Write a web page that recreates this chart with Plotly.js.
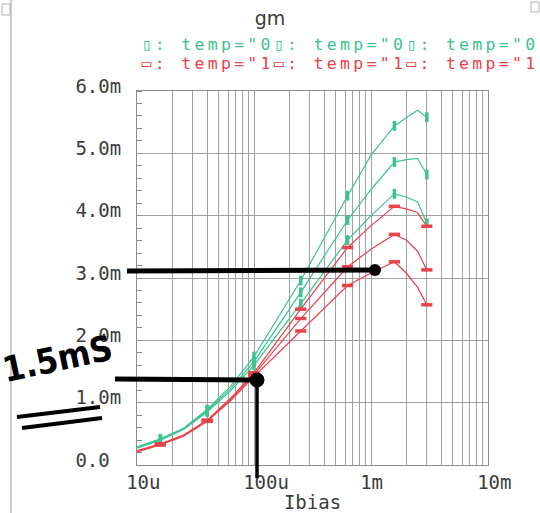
<!DOCTYPE html>
<html>
<head>
<meta charset="utf-8">
<script src="https://cdn.plot.ly/plotly-3.0.1.min.js"></script>
<style>
  html, body { margin: 0; padding: 0; background: #fff; }
  #plot { width: 540px; height: 513px; }
  /* legend rows use the wide spacing of the simulator's text */
  .annotation[data-index="0"] text, .annotation[data-index="1"] text { letter-spacing: 3.3px; }
</style>
</head>
<body>
<div id="plot"></div>
<script>
// Bias current sweep (A)
const ibias = [10e-6, 15.85e-6, 25e-6, 39.8e-6, 63e-6, 100e-6, 251e-6, 631e-6, 1e-3, 1.585e-3, 2e-3, 2.5e-3, 3e-3];

// gm in mS for each corner
const gmTemp0a = [0.29, 0.42, 0.59, 0.89, 1.26, 1.74, 2.96, 4.32, 4.97, 5.44, 5.57, 5.69, 5.58];
const gmTemp0b = [0.28, 0.41, 0.58, 0.87, 1.22, 1.66, 2.77, 3.93, 4.42, 4.86, 4.90, 4.92, 4.66];
const gmTemp0c = [0.27, 0.40, 0.57, 0.85, 1.19, 1.60, 2.59, 3.61, 4.00, 4.35, 4.30, 4.22, 3.88];
const gmTemp1a = [0.23, 0.34, 0.48, 0.72, 1.07, 1.48, 2.50, 3.49, 3.84, 4.15, 4.11, 4.05, 3.83];
const gmTemp1b = [0.22, 0.33, 0.47, 0.71, 1.05, 1.45, 2.35, 3.18, 3.46, 3.70, 3.61, 3.43, 3.13];
const gmTemp1c = [0.21, 0.32, 0.46, 0.70, 1.03, 1.42, 2.15, 2.88, 3.08, 3.26, 3.08, 2.85, 2.57];

// samples that carry a trace marker
const markerAt = [1, 3, 5, 6, 7, 9, 12];

// legend entries and axis tick labels
const legendTemp0 = 'temp="0';
const legendTemp1 = 'temp="1';
const xTickVals = [10e-6, 100e-6, 1e-3, 10e-3];
const xTickText = ['10u', '100u', '1m', '10m'];
const yTickVals = [0, 1e-3, 2e-3, 3e-3, 4e-3, 5e-3, 6e-3];
const yTickText = ['0.0', '1.0m', '2.0m', '3.0m', '4.0m', '5.0m', '6.0m'];

const GREEN = '#3cc48e';
const RED = '#e8424a';
const GRID = '#a0a0a0';
const TEXT = '#3c3c3c';
const MONO = 'DejaVu Sans Mono, monospace';
const LEGEND_SPACING = 3.3; // matches the letter-spacing rule above

// plot area in page pixels
const L = 137, R = 488, T = 91, B = 465;
const fx = p => (p - L) / (R - L);
const fy = p => (B - p) / (B - T);

const toS = arr => arr.map(v => v * 1e-3);

const series = [
  { y: gmTemp0a, color: GREEN, sym: 'line-ns' },
  { y: gmTemp0b, color: GREEN, sym: 'line-ns' },
  { y: gmTemp0c, color: GREEN, sym: 'line-ns' },
  { y: gmTemp1a, color: RED, sym: 'line-ew' },
  { y: gmTemp1b, color: RED, sym: 'line-ew' },
  { y: gmTemp1c, color: RED, sym: 'line-ew' }
];

const traces = [];
series.forEach(s => {
  const ys = toS(s.y);
  traces.push({
    x: ibias, y: ys, type: 'scatter', mode: 'lines',
    line: { color: s.color, width: 1.2 }, hoverinfo: 'skip'
  });
  traces.push({
    x: markerAt.map(i => ibias[i]), y: markerAt.map(i => ys[i]),
    type: 'scatter', mode: 'markers', hoverinfo: 'skip',
    marker: {
      symbol: s.sym, size: s.sym === 'line-ns' ? 7 : 8,
      line: { color: s.color, width: 3.5 }
    }
  });
});

const pad4 = t => t.padEnd(4, '\u00a0');

const annotations = [];
// legend rows: marker glyph, then the entry, repeated up to the window edge.
// The box is sized without the extra letter spacing, so the anchor is moved
// right by half of the added width to keep the row starting at x = 141.
[[legendTemp0, GREEN, '\u25AF', 45], [legendTemp1, RED, '\u25AD', 64]].forEach(([label, color, glyph, py]) => {
  const entry = glyph + ': ' + label;
  const text = entry + entry + entry;
  annotations.push({
    xref: 'paper', yref: 'paper', x: fx(141 + LEGEND_SPACING * text.length / 2), y: fy(py),
    xanchor: 'left', yanchor: 'middle', showarrow: false,
    text: text, borderpad: 0, borderwidth: 0,
    font: { family: MONO, size: 16.5, color: color }
  });
});
// hand-written note
annotations.push({
  xref: 'paper', yref: 'paper', x: fx(57), y: fy(359),
  xanchor: 'center', yanchor: 'middle', showarrow: false,
  text: '1.5mS', textangle: -12,
  font: { family: 'DejaVu Sans Condensed, Liberation Sans Narrow, Liberation Sans, sans-serif', size: 35, color: '#000', weight: 'bold' }
});

const ink = '#000';
const lineShape = (x0, y0, x1, y1, w) => ({
  type: 'line', xref: 'paper', yref: 'paper',
  x0: fx(x0), y0: fy(y0), x1: fx(x1), y1: fy(y1),
  line: { color: ink, width: w }
});
const dot = (cx, cy, r) => ({
  type: 'circle', xref: 'paper', yref: 'paper',
  x0: fx(cx - r), x1: fx(cx + r), y0: fy(cy + r), y1: fy(cy - r),
  fillcolor: ink, line: { color: ink, width: 0 }
});

const shapes = [
  // window frame
  { type: 'line', xref: 'paper', yref: 'paper', x0: fx(11), x1: fx(11), y0: fy(0), y1: fy(513), line: { color: '#bdbdbd', width: 1.5 } },
  { type: 'rect', xref: 'paper', yref: 'paper', x0: fx(2), x1: fx(10), y0: fy(15), y1: fy(4), line: { color: '#b0b0b0', width: 1 } },
  { type: 'rect', xref: 'paper', yref: 'paper', x0: fx(531), x1: fx(539), y0: fy(12), y1: fy(2), line: { color: '#b0b0b0', width: 1 } },
  // ink marks
  lineShape(127, 271, 375, 270, 5),
  dot(375, 270, 6),
  lineShape(115, 379, 257, 380, 5),
  dot(257, 380, 7.5),
  lineShape(257, 380, 257, 478, 3.5),
  lineShape(17, 417, 100, 407, 4),
  lineShape(22, 428, 102, 418, 4)
];

const axisCommon = {
  showline: true, mirror: true, linecolor: '#8c8c8c', linewidth: 1,
  showgrid: true, gridcolor: GRID, gridwidth: 1, zeroline: false,
  automargin: false, fixedrange: true,
  tickfont: { family: MONO, size: 19, color: TEXT }
};

const layout = {
  width: 540, height: 513,
  margin: { l: L, r: 540 - R, t: T, b: 513 - B, pad: 0 },
  paper_bgcolor: '#fff', plot_bgcolor: '#fff',
  showlegend: false,
  title: {
    text: 'gm', x: 0.5, xref: 'container', xanchor: 'center',
    y: 1 - 18 / 513, yref: 'container', yanchor: 'middle',
    font: { family: 'DejaVu Sans, sans-serif', size: 19, color: TEXT }
  },
  xaxis: Object.assign({}, axisCommon, {
    type: 'log', range: [-5, -2],
    tickmode: 'array', tickvals: xTickVals, ticktext: xTickText.map(pad4),
    ticks: '', ticklabelshift: 12, ticklabelstandoff: 0,
    minor: { dtick: 'D1', showgrid: true, gridcolor: GRID, gridwidth: 1, ticks: '' },
    title: { text: 'Ibias', font: { family: MONO, size: 19, color: TEXT }, standoff: 0 }
  }),
  yaxis: Object.assign({}, axisCommon, {
    range: [0, 6e-3],
    tickmode: 'array', tickvals: yTickVals, ticktext: yTickText.map(pad4),
    ticks: '', ticklabelshift: -5, ticklabelstandoff: 11,
    minor: { dtick: 0.2e-3, ticks: 'inside', ticklen: 5, tickcolor: '#8c8c8c', tickwidth: 1, showgrid: false }
  }),
  annotations: annotations,
  shapes: shapes
};

Plotly.newPlot('plot', traces, layout, { displayModeBar: false, staticPlot: true });
</script>
</body>
</html>
